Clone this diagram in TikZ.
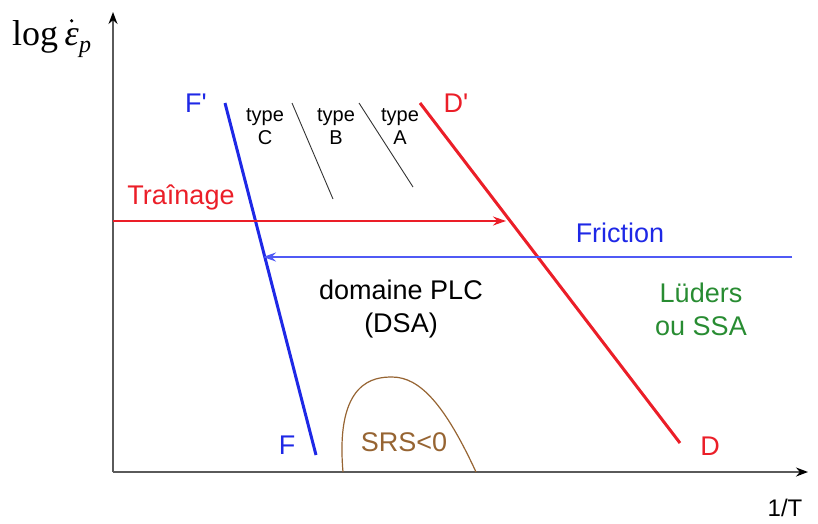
\documentclass[tikz,border=0pt]{standalone}
\usepackage{fontspec}
\setmainfont{Liberation Sans}
\newfontfamily\serifname{Liberation Serif}
\usetikzlibrary{arrows.meta}
\definecolor{myblue}{RGB}{30,40,230}
\definecolor{lblue}{RGB}{80,90,245}
\definecolor{myred}{RGB}{235,30,40}
\definecolor{mygreen}{RGB}{40,140,50}
\definecolor{mybrown}{RGB}{150,100,50}
\definecolor{axisgray}{RGB}{90,90,90}
\begin{document}
\begin{tikzpicture}[x=1pt,y=-1pt,
  lbl/.style={font=\fontsize{27}{30}\selectfont, inner sep=0pt},
  serlbl/.style={font=\serifname\fontsize{36}{38}\selectfont, inner sep=0pt},
  typelbl/.style={font=\fontsize{20}{23}\selectfont, inner sep=0pt, align=center},
  axisline/.style={draw=axisgray, line width=1.6pt, -{Stealth[length=12pt,width=9pt,color=black]}},
  thickline/.style={line width=3pt},
  thinline/.style={draw=black!80, line width=0.9pt},
  flow/.style={line width=1.3pt, -{Stealth[length=13pt,width=9pt]}}
]
\useasboundingbox (0,0) rectangle (818,523);
% axes
\coordinate (O) at (113,472);
\coordinate (Ytop) at (113,12);
\coordinate (Xend) at (808,472);
\draw[axisline] (O) -- (Ytop);
\draw[axisline] (O) -- (Xend);
% y label: log eps-dot _p
\node[serlbl, anchor=base west] (logn) at (12,45) {log};
\node[serlbl, anchor=base west] (eps) at ([xshift=6pt]logn.base east) {\itshape ε};
\fill ([yshift=7pt]eps.north) circle (1.8pt);
\node[serlbl, anchor=base west, font=\serifname\fontsize{24}{26}\selectfont] (pn) at ([yshift=-7pt]eps.base east) {\itshape p};
\node[lbl, font=\fontsize{24}{26}\selectfont] (xlab) at (785,508) {1/T};
% F'F line
\coordinate (Ftop) at (225,103);
\coordinate (Fbot) at (316,455);
\draw[thickline, myblue] (Ftop) -- (Fbot);
\node[lbl, myblue] (Fp) at (196,103) {F\textquotesingle};
\node[lbl, myblue] (F) at (287,445) {F};
% D'D line
\coordinate (Dtop) at (420,103);
\coordinate (Dbot) at (680,443);
\draw[thickline, myred] (Dtop) -- (Dbot);
\node[lbl, myred] (Dp) at (456,103) {D\textquotesingle};
\node[lbl, myred] (D) at (710,446) {D};
% type lines
\coordinate (t1a) at (292,103);
\coordinate (t1b) at (333,199);
\coordinate (t2a) at (359,103);
\coordinate (t2b) at (413,187);
\draw[thinline] (t1a) -- (t1b);
\draw[thinline] (t2a) -- (t2b);
\node[typelbl] (tC) at (265,127) {type\\C};
\node[typelbl] (tB) at (336,127) {type\\B};
\node[typelbl] (tA) at (400,127) {type\\A};
% Trainage
\coordinate (trs) at (113,221);
\coordinate (tre) at (506,221);
\draw[flow, myred] (trs) -- (tre);
\node[lbl, myred] (trl) at (181,197) {Traînage};
% Friction
\coordinate (frs) at (792,257);
\coordinate (fre) at (263,257);
\draw[flow, lblue] (frs) -- (fre);
\node[lbl, myblue] (frl) at (620,233) {Friction};
% domains
\node[lbl, align=center, font=\fontsize{27}{33}\selectfont] (plc) at (401,309) {domaine PLC\\(DSA)};
\node[lbl, align=center, mygreen, font=\fontsize{27}{33}\selectfont] (lud) at (701,309) {Lüders\\ou SSA};
% SRS
\coordinate (s1) at (343,472);
\coordinate (s2) at (476,472);
\draw[mybrown, line width=1.2pt] (s1) .. controls (335,380) and (375,377) .. (392,377) .. controls (420,377) and (445,405) .. (s2);
\node[lbl, mybrown] (srs) at (404,442) {SRS<0};
\end{tikzpicture}
\end{document}
